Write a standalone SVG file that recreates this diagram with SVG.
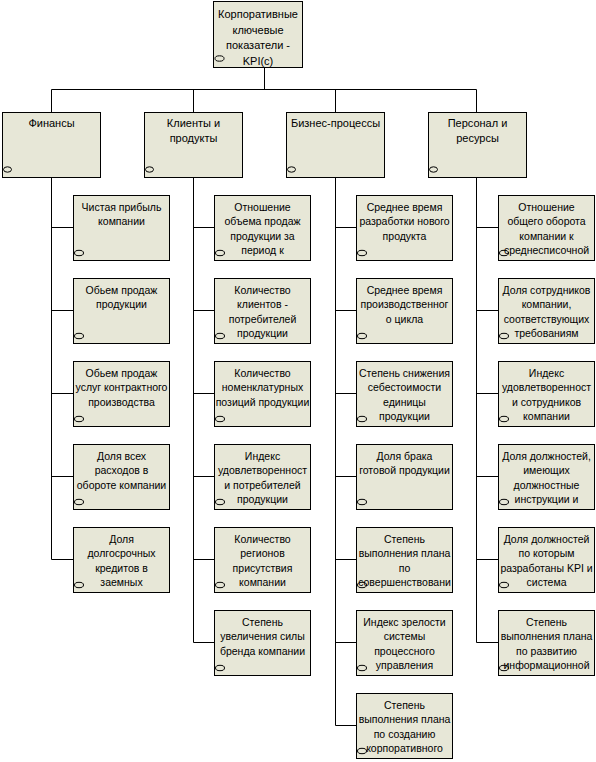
<svg xmlns="http://www.w3.org/2000/svg" width="596" height="762" viewBox="0 0 596 762">
<style>
.box{fill:#E7E7D7;stroke:#000;stroke-width:1}
.ell{fill:none;stroke:#000;stroke-width:1}
.ln{stroke:#000;stroke-width:1;fill:none}
text{font-family:"Liberation Sans",Arial,sans-serif;fill:#000;text-anchor:middle}
.t11{font-size:11px}
.t10{font-size:10.5px}
</style>
<rect width="596" height="762" fill="#fff"/>
<g id="connectors">
<path class="ln" d="M264.5 67 V89.5 M51.5 89.5 H476.5 M51.5 89.5 V112 M193.5 89.5 V112 M335.5 89.5 V112 M476.5 89.5 V112"/>
<path class="ln" d="M51.5 177 V559.5 M51.5 227.5 H73 M51.5 310.5 H73 M51.5 393.5 H73 M51.5 476.5 H73 M51.5 559.5 H73"/>
<path class="ln" d="M193.5 177 V642.5 M193.5 227.5 H214 M193.5 310.5 H214 M193.5 393.5 H214 M193.5 476.5 H214 M193.5 559.5 H214 M193.5 642.5 H214"/>
<path class="ln" d="M335.5 177 V725.5 M335.5 227.5 H356 M335.5 310.5 H356 M335.5 393.5 H356 M335.5 476.5 H356 M335.5 559.5 H356 M335.5 642.5 H356 M335.5 725.5 H356"/>
<path class="ln" d="M476.5 177 V642.5 M476.5 227.5 H498 M476.5 310.5 H498 M476.5 393.5 H498 M476.5 476.5 H498 M476.5 559.5 H498 M476.5 642.5 H498"/>
</g>
<g id="root">
<rect class="box" x="213.5" y="1.5" width="89" height="66"/>
<ellipse class="ell" cx="219.5" cy="58.5" rx="4.5" ry="2.7"/>
<text class="t11" x="258" y="18">Корпоративные</text>
<text class="t11" x="258" y="33.5">ключевые</text>
<text class="t11" x="258" y="49">показатели -</text>
<text class="t11" x="258" y="64.5">KPI(с)</text>
</g>
<g id="cat-finance">
<rect class="box" x="2.5" y="112.5" width="98" height="65"/>
<ellipse class="ell" cx="7.5" cy="169.5" rx="4" ry="2.7"/>
<text class="t11" x="51.5" y="126.5">Финансы</text>
</g>
<g id="cat-clients">
<rect class="box" x="144.5" y="112.5" width="98" height="65"/>
<ellipse class="ell" cx="149.5" cy="169.5" rx="4" ry="2.7"/>
<text class="t11" x="193.5" y="126.5">Клиенты и</text>
<text class="t11" x="193.5" y="141.5">продукты</text>
</g>
<g id="cat-process">
<rect class="box" x="286.5" y="112.5" width="98" height="65"/>
<ellipse class="ell" cx="291.5" cy="169.5" rx="4" ry="2.7"/>
<text class="t11" x="335.5" y="126.5">Бизнес-процессы</text>
</g>
<g id="cat-staff">
<rect class="box" x="428.5" y="112.5" width="98" height="65"/>
<ellipse class="ell" cx="433.5" cy="169.5" rx="4" ry="2.7"/>
<text class="t11" x="477.5" y="126.5">Персонал и</text>
<text class="t11" x="477.5" y="141.5">ресурсы</text>
</g>

<!-- Finance leaves -->
<g id="f1"><rect class="box" x="73.5" y="195.5" width="96" height="65"/><ellipse class="ell" cx="79" cy="253" rx="4.5" ry="2.7"/>
<text class="t10" x="121.5" y="211">Чистая прибыль</text><text class="t10" x="121.5" y="225.3">компании</text></g>
<g id="f2"><rect class="box" x="73.5" y="278.5" width="96" height="65"/><ellipse class="ell" cx="79" cy="336" rx="4.5" ry="2.7"/>
<text class="t10" x="121.5" y="294">Обьем продаж</text><text class="t10" x="121.5" y="308.3">продукции</text></g>
<g id="f3"><rect class="box" x="73.5" y="361.5" width="96" height="65"/><ellipse class="ell" cx="79" cy="419" rx="4.5" ry="2.7"/>
<text class="t10" x="121.5" y="377">Обьем продаж</text><text class="t10" x="121.5" y="391.3">услуг контрактного</text><text class="t10" x="121.5" y="405.6">производства</text></g>
<g id="f4"><rect class="box" x="73.5" y="444.5" width="96" height="65"/><ellipse class="ell" cx="79" cy="502" rx="4.5" ry="2.7"/>
<text class="t10" x="121.5" y="460">Доля всех</text><text class="t10" x="121.5" y="474.3">расходов в</text><text class="t10" x="121.5" y="488.6">обороте компании</text></g>
<g id="f5"><rect class="box" x="73.5" y="527.5" width="96" height="65"/><ellipse class="ell" cx="79" cy="585" rx="4.5" ry="2.7"/>
<text class="t10" x="121.5" y="543">Доля</text><text class="t10" x="121.5" y="557.3">долгосрочных</text><text class="t10" x="121.5" y="571.6">кредитов в</text><text class="t10" x="121.5" y="585.9">заемных</text></g>

<!-- Clients leaves -->
<g id="c1"><rect class="box" x="214.5" y="195.5" width="96" height="65"/><ellipse class="ell" cx="220" cy="253" rx="4.5" ry="2.7"/>
<text class="t10" x="262.5" y="211">Отношение</text><text class="t10" x="262.5" y="225.3">объема продаж</text><text class="t10" x="262.5" y="239.6">продукции за</text><text class="t10" x="262.5" y="253.9">период к</text></g>
<g id="c2"><rect class="box" x="214.5" y="278.5" width="96" height="65"/><ellipse class="ell" cx="220" cy="336" rx="4.5" ry="2.7"/>
<text class="t10" x="262.5" y="294">Количество</text><text class="t10" x="262.5" y="308.3">клиентов -</text><text class="t10" x="262.5" y="322.6">потребителей</text><text class="t10" x="262.5" y="336.9">продукции</text></g>
<g id="c3"><rect class="box" x="214.5" y="361.5" width="96" height="65"/><ellipse class="ell" cx="220" cy="419" rx="4.5" ry="2.7"/>
<text class="t10" x="262.5" y="377">Количество</text><text class="t10" x="262.5" y="391.3">номенклатурных</text><text class="t10" x="262.5" y="405.6">позиций продукции</text></g>
<g id="c4"><rect class="box" x="214.5" y="444.5" width="96" height="65"/><ellipse class="ell" cx="220" cy="502" rx="4.5" ry="2.7"/>
<text class="t10" x="262.5" y="460">Индекс</text><text class="t10" x="262.5" y="474.3">удовлетворенност</text><text class="t10" x="262.5" y="488.6">и потребителей</text><text class="t10" x="262.5" y="502.9">продукции</text></g>
<g id="c5"><rect class="box" x="214.5" y="527.5" width="96" height="65"/><ellipse class="ell" cx="220" cy="585" rx="4.5" ry="2.7"/>
<text class="t10" x="262.5" y="543">Количество</text><text class="t10" x="262.5" y="557.3">регионов</text><text class="t10" x="262.5" y="571.6">присутствия</text><text class="t10" x="262.5" y="585.9">компании</text></g>
<g id="c6"><rect class="box" x="214.5" y="610.5" width="96" height="65"/><ellipse class="ell" cx="220" cy="668" rx="4.5" ry="2.7"/>
<text class="t10" x="262.5" y="626">Степень</text><text class="t10" x="262.5" y="640.3">увеличения силы</text><text class="t10" x="262.5" y="654.6">бренда компании</text></g>

<!-- Process leaves -->
<g id="p1"><rect class="box" x="356.5" y="195.5" width="96" height="65"/><ellipse class="ell" cx="362" cy="253" rx="4.5" ry="2.7"/>
<text class="t10" x="404.5" y="211">Среднее время</text><text class="t10" x="404.5" y="225.3">разработки нового</text><text class="t10" x="404.5" y="239.6">продукта</text></g>
<g id="p2"><rect class="box" x="356.5" y="278.5" width="96" height="65"/><ellipse class="ell" cx="362" cy="336" rx="4.5" ry="2.7"/>
<text class="t10" x="404.5" y="294">Среднее время</text><text class="t10" x="404.5" y="308.3">производственног</text><text class="t10" x="404.5" y="322.6">о цикла</text></g>
<g id="p3"><rect class="box" x="356.5" y="361.5" width="96" height="65"/><ellipse class="ell" cx="362" cy="419" rx="4.5" ry="2.7"/>
<text class="t10" x="404.5" y="377">Степень снижения</text><text class="t10" x="404.5" y="391.3">себестоимости</text><text class="t10" x="404.5" y="405.6">единицы</text><text class="t10" x="404.5" y="419.9">продукции</text></g>
<g id="p4"><rect class="box" x="356.5" y="444.5" width="96" height="65"/><ellipse class="ell" cx="362" cy="502" rx="4.5" ry="2.7"/>
<text class="t10" x="404.5" y="460">Доля брака</text><text class="t10" x="404.5" y="474.3">готовой продукции</text></g>
<g id="p5"><rect class="box" x="356.5" y="527.5" width="96" height="65"/><ellipse class="ell" cx="362" cy="585" rx="4.5" ry="2.7"/>
<text class="t10" x="404.5" y="543">Степень</text><text class="t10" x="404.5" y="557.3">выполнения плана</text><text class="t10" x="404.5" y="571.6">по</text><text class="t10" x="404.5" y="585.9">совершенствовани</text></g>
<g id="p6"><rect class="box" x="356.5" y="610.5" width="96" height="65"/><ellipse class="ell" cx="362" cy="668" rx="4.5" ry="2.7"/>
<text class="t10" x="404.5" y="626">Индекс зрелости</text><text class="t10" x="404.5" y="640.3">системы</text><text class="t10" x="404.5" y="654.6">процессного</text><text class="t10" x="404.5" y="668.9">управления</text></g>
<g id="p7"><rect class="box" x="356.5" y="693.5" width="96" height="65"/><ellipse class="ell" cx="362" cy="751" rx="4.5" ry="2.7"/>
<text class="t10" x="404.5" y="709">Степень</text><text class="t10" x="404.5" y="723.3">выполнения плана</text><text class="t10" x="404.5" y="737.6">по созданию</text><text class="t10" x="404.5" y="751.9">корпоративного</text></g>

<!-- Staff leaves -->
<g id="s1"><rect class="box" x="498.5" y="195.5" width="96" height="65"/><ellipse class="ell" cx="504" cy="253" rx="4.5" ry="2.7"/>
<text class="t10" x="546.5" y="211">Отношение</text><text class="t10" x="546.5" y="225.3">общего оборота</text><text class="t10" x="546.5" y="239.6">компании к</text><text class="t10" x="546.5" y="253.9">среднесписочной</text></g>
<g id="s2"><rect class="box" x="498.5" y="278.5" width="96" height="65"/><ellipse class="ell" cx="504" cy="336" rx="4.5" ry="2.7"/>
<text class="t10" x="546.5" y="294">Доля сотрудников</text><text class="t10" x="546.5" y="308.3">компании,</text><text class="t10" x="546.5" y="322.6">соответствующих</text><text class="t10" x="546.5" y="336.9">требованиям</text></g>
<g id="s3"><rect class="box" x="498.5" y="361.5" width="96" height="65"/><ellipse class="ell" cx="504" cy="419" rx="4.5" ry="2.7"/>
<text class="t10" x="546.5" y="377">Индекс</text><text class="t10" x="546.5" y="391.3">удовлетворенност</text><text class="t10" x="546.5" y="405.6">и сотрудников</text><text class="t10" x="546.5" y="419.9">компании</text></g>
<g id="s4"><rect class="box" x="498.5" y="444.5" width="96" height="65"/><ellipse class="ell" cx="504" cy="502" rx="4.5" ry="2.7"/>
<text class="t10" x="546.5" y="460">Доля должностей,</text><text class="t10" x="546.5" y="474.3">имеющих</text><text class="t10" x="546.5" y="488.6">должностные</text><text class="t10" x="546.5" y="502.9">инструкции и</text></g>
<g id="s5"><rect class="box" x="498.5" y="527.5" width="96" height="65"/><ellipse class="ell" cx="504" cy="585" rx="4.5" ry="2.7"/>
<text class="t10" x="546.5" y="543">Доля должностей</text><text class="t10" x="546.5" y="557.3">по которым</text><text class="t10" x="546.5" y="571.6">разработаны KPI и</text><text class="t10" x="546.5" y="585.9">система</text></g>
<g id="s6"><rect class="box" x="498.5" y="610.5" width="96" height="65"/><ellipse class="ell" cx="504" cy="668" rx="4.5" ry="2.7"/>
<text class="t10" x="546.5" y="626">Степень</text><text class="t10" x="546.5" y="640.3">выполнения плана</text><text class="t10" x="546.5" y="654.6">по развитию</text><text class="t10" x="546.5" y="668.9">информационной</text></g>
</svg>
